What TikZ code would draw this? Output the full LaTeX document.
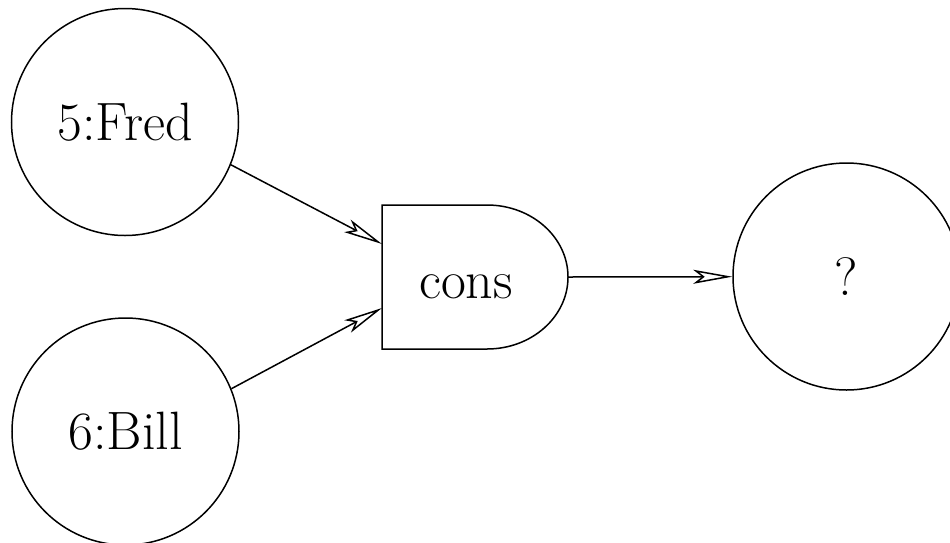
\documentclass[tikz,border=0pt]{standalone}
\usetikzlibrary{arrows.meta}
\begin{document}
\begin{tikzpicture}[x=1pt,y=-1pt,
  every node/.style={font=\fontsize{54}{60}\selectfont},
  val/.style={circle,draw,line width=1.5pt,minimum size=227pt,inner sep=0pt},
  wire/.style={line width=1.5pt,-{Stealth[open,length=39pt,width=14pt,inset=9pt,line width=1.5pt]}},
  gate/.style={line width=1.5pt}]
\useasboundingbox (0,0) rectangle (950,542);
\node[val] (fred) at (125,122) {5:Fred};
\node[val] (bill) at (125.5,431.5) {6:Bill};
\node[val] (res) at (846.5,276.5) {?};
% cons gate
\coordinate (gtl) at (382,205);
\coordinate (gbl) at (382,349);
\coordinate (gtr) at (487,205);
\coordinate (gbr) at (487,349);
\coordinate (in1) at (382,244);
\coordinate (in2) at (382,308);
\coordinate (out) at (568,277);
\draw[gate] (gtr) -- (gtl) -- (gbl) -- (gbr) arc[start angle=-90,end angle=90,x radius=81,y radius=-72] -- cycle;
\node[inner sep=0pt] (cons) at (466,287) {cons};
\draw[wire] (fred.-22) -- (in1);
\draw[wire] (bill.22) -- (in2);
\draw[wire] (out) -- (res);
\end{tikzpicture}
\end{document}
